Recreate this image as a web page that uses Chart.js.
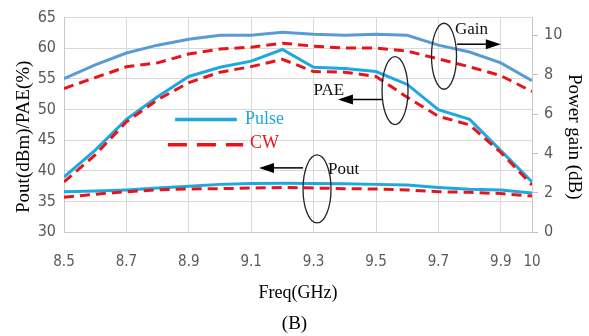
<!DOCTYPE html>
<html>
<head>
<meta charset="utf-8">
<script src="https://cdn.jsdelivr.net/npm/chart.js@4.4.1/dist/chart.umd.min.js"></script>
<style>
  html, body { margin: 0; padding: 0; background: #fff; }
  canvas { display: block; }
</style>
</head>
<body>
<canvas id="chart" width="589" height="336"></canvas>
<script>
// frequency points (GHz)
var freq = [8.5, 8.6, 8.7, 8.8, 8.9, 9.0, 9.1, 9.2, 9.3, 9.4, 9.5, 9.6, 9.7, 9.8, 9.9, 10.0];
var xTicks = [8.5, 8.7, 8.9, 9.1, 9.3, 9.5, 9.7, 9.9, 10];
var gainTicks = [0, 2, 4, 6, 8, 10];

// power gain (dB), right axis
var gainPulse = [7.8, 8.5, 9.1, 9.5, 9.8, 10.0, 10.0, 10.15, 10.05, 10.0, 10.05, 10.0, 9.5, 9.15, 8.6, 7.7];
var gainCW = [7.3, 7.85, 8.4, 8.6, 9.05, 9.3, 9.4, 9.6, 9.45, 9.35, 9.35, 9.2, 8.8, 8.4, 7.95, 7.15];
// PAE (%), left axis
var paePulse = [39.0, 43.4, 48.4, 52.1, 55.4, 56.9, 57.9, 59.8, 56.9, 56.7, 56.2, 54.1, 50.0, 48.4, 43.3, 38.2];
var paeCW = [38.2, 42.6, 48.0, 51.6, 54.4, 56.1, 57.0, 58.2, 56.2, 56.1, 55.4, 52.0, 48.9, 47.5, 43.0, 37.7];
// Pout (dBm), left axis
var poutPulse = [36.6, 36.7, 36.9, 37.2, 37.5, 37.8, 37.95, 38.0, 37.95, 37.9, 37.8, 37.7, 37.3, 37.0, 36.9, 36.4];
var poutCW = [35.7, 36.2, 36.6, 36.9, 37.05, 37.1, 37.2, 37.3, 37.2, 37.1, 37.05, 36.9, 36.6, 36.5, 36.3, 35.9];

var BLUE = '#5b9bd5';
var CYAN = '#1fa8e0';
var RED = '#e8141c';
var TICK_FONT = '"DejaVu Sans Condensed", "Liberation Sans Narrow", sans-serif';
var SERIF = '"Liberation Serif", "DejaVu Serif", serif';

function pts(arr) {
    return freq.map(function (f, i) { return {x: f, y: arr[i]}; });
}

function line(label, arr, color, axis, dashed) {
    return {
        label: label,
        data: pts(arr),
        yAxisID: axis,
        borderColor: color,
        borderWidth: 3,
        borderDash: dashed ? [10, 6] : [],
        pointRadius: 0,
        tension: 0,
        fill: false
    };
}

// ellipses, arrows and the little legend, placed in data units (GHz / left axis)
var notes = {
    id: 'notes',
    afterDatasetsDraw: function (chart) {
        var ctx = chart.ctx;
        var sx = chart.scales.x, sy = chart.scales.y;
        function px(v) { return sx.getPixelForValue(v); }
        function py(v) { return sy.getPixelForValue(v); }

        function ellipse(x, y, rx, ry) {
            ctx.beginPath();
            ctx.ellipse(px(x), py(y), rx, ry, 0, 0, Math.PI * 2);
            ctx.strokeStyle = '#222';
            ctx.lineWidth = 1.3;
            ctx.stroke();
        }
        function arrow(x0, x1, y) {
            var a = px(x0), b = px(x1), yy = py(y);
            var dir = b > a ? 1 : -1;
            ctx.beginPath();
            ctx.moveTo(a, yy);
            ctx.lineTo(b - dir * 12, yy);
            ctx.strokeStyle = '#000';
            ctx.lineWidth = 1.5;
            ctx.stroke();
            ctx.beginPath();
            ctx.moveTo(b, yy);
            ctx.lineTo(b - dir * 15, yy - 5);
            ctx.lineTo(b - dir * 15, yy + 5);
            ctx.closePath();
            ctx.fillStyle = '#000';
            ctx.fill();
        }
        function text(t, x, y, color, size, align) {
            ctx.font = size + 'px ' + SERIF;
            ctx.fillStyle = color;
            ctx.textAlign = align;
            ctx.textBaseline = 'middle';
            ctx.fillText(t, px(x), py(y));
        }

        ctx.save();
        ellipse(9.718, 58.7, 12.5, 33);
        arrow(9.76, 9.9, 60.66);
        text('Gain', 9.753, 63.1, '#111', 17, 'left');

        ellipse(9.561, 53.1, 13, 34);
        arrow(9.519, 9.378, 51.64);
        text('PAE', 9.349, 53.1, '#111', 17, 'center');

        ellipse(9.311, 37.05, 14, 34);
        arrow(9.266, 9.125, 40.49);
        text('Pout', 9.346, 40.2, '#111', 17, 'left');

        // legend
        ctx.setLineDash([]);
        ctx.lineWidth = 3.5;
        ctx.strokeStyle = CYAN;
        ctx.beginPath();
        ctx.moveTo(px(8.856), py(48.4));
        ctx.lineTo(px(9.054), py(48.4));
        ctx.stroke();
        text('Pulse', 9.08, 48.4, CYAN, 18, 'left');

        ctx.strokeStyle = RED;
        ctx.setLineDash([19, 10]);
        ctx.beginPath();
        ctx.moveTo(px(8.833), py(44.25));
        ctx.lineTo(px(9.074), py(44.25));
        ctx.stroke();
        ctx.setLineDash([]);
        text('CW', 9.096, 44.5, RED, 18, 'left');
        ctx.restore();
    }
};

var sp = '\u00a0\u00a0\u00a0\u00a0\u00a0';

new Chart(document.getElementById('chart').getContext('2d'), {
    type: 'line',
    data: {
        datasets: [
            line('Gain CW', gainCW, RED, 'y1', true),
            line('PAE CW', paeCW, RED, 'y', true),
            line('Pout CW', poutCW, RED, 'y', true),
            line('Gain Pulse', gainPulse, BLUE, 'y1', false),
            line('PAE Pulse', paePulse, CYAN, 'y', false),
            line('Pout Pulse', poutPulse, CYAN, 'y', false)
        ]
    },
    options: {
        responsive: false,
        devicePixelRatio: 1,
        animation: false,
        layout: {padding: {top: 17, left: 0, right: 0, bottom: 0}},
        plugins: {
            legend: {display: false},
            tooltip: {enabled: false},
            title: {
                display: true,
                text: '(B)',
                position: 'bottom',
                color: '#000',
                font: {family: SERIF, size: 19, weight: 'normal'},
                padding: {top: 0, bottom: 1}
            }
        },
        scales: {
            x: {
                type: 'linear',
                min: 8.5,
                max: 10,
                afterBuildTicks: function (s) {
                    s.ticks = xTicks.map(function (v) { return {value: v}; });
                },
                afterFit: function (s) { s.height = 80; },
                ticks: {
                    autoSkip: false,
                    maxRotation: 0,
                    padding: 21,
                    color: '#595959',
                    font: {family: TICK_FONT, size: 15},
                    callback: function (v) { return String(Math.round(v * 10) / 10); }
                },
                grid: {color: '#d9d9d9', drawTicks: false},
                border: {color: '#c8c8c8'},
                title: {
                    display: true,
                    text: 'Freq(GHz)',
                    color: '#000',
                    font: {family: SERIF, size: 18},
                    padding: {top: 0, bottom: 8}
                }
            },
            y: {
                position: 'left',
                min: 30,
                max: 65,
                afterFit: function (s) { s.width = 64; },
                ticks: {
                    stepSize: 5,
                    padding: 8,
                    color: '#595959',
                    font: {family: TICK_FONT, size: 16}
                },
                grid: {color: '#d9d9d9', drawTicks: false},
                border: {color: '#c8c8c8'},
                title: {
                    display: true,
                    text: 'Pout(dBm)/PAE(%)' + sp,
                    color: '#000',
                    font: {family: SERIF, size: 19},
                    padding: {top: 13, bottom: 0}
                }
            },
            y1: {
                position: 'right',
                min: 0,
                max: 10.9,
                afterBuildTicks: function (s) {
                    s.ticks = gainTicks.map(function (v) { return {value: v}; });
                },
                afterFit: function (s) { s.width = 57; },
                ticks: {
                    padding: 6,
                    color: '#595959',
                    font: {family: TICK_FONT, size: 16}
                },
                grid: {drawOnChartArea: false, color: '#bfbfbf', tickLength: 6},
                border: {color: '#c8c8c8'},
                title: {
                    display: true,
                    text: sp + 'Power gain (dB)',
                    color: '#000',
                    font: {family: SERIF, size: 19},
                    padding: {top: 4, bottom: 0}
                }
            }
        }
    },
    plugins: [notes]
});
</script>
</body>
</html>
